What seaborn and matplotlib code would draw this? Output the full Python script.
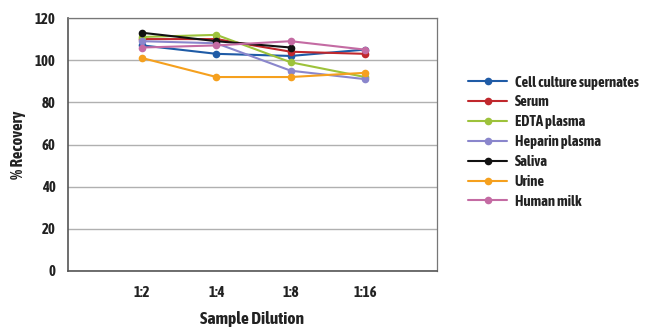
import numpy as np
import pandas as pd
import matplotlib
matplotlib.use("Agg")
import matplotlib.pyplot as plt
import seaborn as sns

dilutions = ["1:2", "1:4", "1:8", "1:16"]
samples = ["Cell culture supernates", "Serum", "EDTA plasma", "Heparin plasma",
           "Saliva", "Urine", "Human milk"]
cell_culture = [107, 103, 102, 105]
serum = [110, 110, 104, 103]
edta_plasma = [111, 112, 99, 92]
heparin_plasma = [109, 108, 95, 91]
saliva = [113, 109, 106, np.nan]
urine = [101, 92, 92, 94]
human_milk = [106, 107, 109, 105]
colors = ["#1F5BA6", "#C0282D", "#9DC23B", "#8A86CC", "#111111", "#F5A01E", "#C46BA3"]

series = [cell_culture, serum, edta_plasma, heparin_plasma, saliva, urine, human_milk]
rows = []
for name, vals in zip(samples, series):
    for d, v in zip(dilutions, vals):
        rows.append({"Sample": name, "Dilution": d, "Recovery": v})
df = pd.DataFrame(rows).dropna()

sns.set_style("white")
plt.rcParams["font.family"] = ["Asap Condensed", "Barlow Condensed", "DejaVu Sans"]
plt.rcParams["font.weight"] = "bold"

fig = plt.figure(figsize=(6.5, 3.36), dpi=100)
ax = fig.add_axes([68 / 650, 1 - 271 / 336, (437 - 68) / 650, (271 - 18) / 336])

sns.lineplot(data=df, x="Dilution", y="Recovery", hue="Sample", hue_order=samples,
             palette=colors, marker="o", markersize=5.5, markeredgewidth=0,
             linewidth=1.5, sort=False, ax=ax, legend=False)

ax.set_ylim(0, 120)
ax.set_yticks(np.arange(0, 121, 20))
ax.set_xlim(-1, 3.97)
ax.yaxis.grid(True, color="#B0B0B0", linewidth=1.0)
ax.set_axisbelow(True)
for side in ["left", "bottom"]:
    ax.spines[side].set_color("#555555")
    ax.spines[side].set_linewidth(1.2)
for side in ["top", "right"]:
    ax.spines[side].set_color("#777777")
    ax.spines[side].set_linewidth(0.9)
ax.tick_params(axis="both", which="both", direction="out", length=4, width=1,
               color="#555555", labelsize=10.5, labelcolor="#222222")
ax.tick_params(axis="x", pad=7)
ax.tick_params(axis="y", pad=5)
ax.set_xlabel("Sample Dilution", fontsize=12.5, fontweight="bold", color="#222222", labelpad=8)
ax.set_ylabel("% Recovery", fontsize=12, fontweight="bold", color="#222222", labelpad=6)

handles = [plt.Line2D([], [], color=c, marker="o", markersize=5.5, markeredgewidth=0,
                      linewidth=1.5) for c in colors]
leg = fig.legend(handles, samples, loc="center left", bbox_to_anchor=(468 / 650, 1 - 142 / 336),
                 frameon=False, fontsize=10.5, handlelength=2.7, labelspacing=0.4,
                 borderpad=0, borderaxespad=0, handletextpad=0.5)
for t in leg.get_texts():
    t.set_fontweight("bold")
    t.set_color("#222222")

fig.savefig("out.png", dpi=100)
